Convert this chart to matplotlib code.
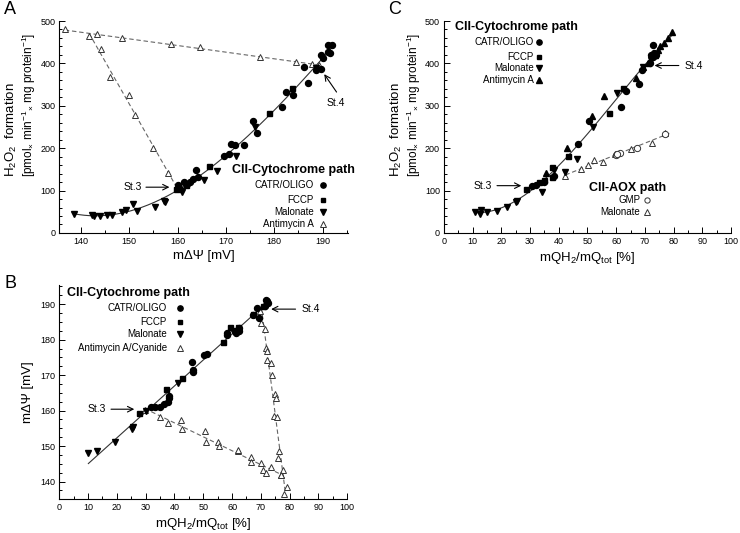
import numpy as np
import matplotlib
matplotlib.use("Agg")
import matplotlib.pyplot as plt
from matplotlib.ticker import MultipleLocator

plt.rcParams['font.family'] = ['Liberation Sans', 'DejaVu Sans']
plt.rcParams['mathtext.fontset'] = 'custom'
plt.rcParams['mathtext.rm'] = 'Liberation Sans'
plt.rcParams['mathtext.it'] = 'Liberation Sans:italic'
plt.rcParams['mathtext.bf'] = 'Liberation Sans:bold'

# ---- panel A: H2O2 vs membrane potential ----
a_catr_x = [160.2, 161.3, 161.9, 162.5, 163.2, 163.8, 164.2, 160.6, 169.6, 170.6, 171.0, 171.9,
            173.8, 175.6, 176.5, 181.5, 182.5, 183.9, 186.1, 186.9, 188.6, 189.6, 189.7, 190.1,
            191.1, 191.6, 191.2, 192.0]
a_catr_y = [113, 121, 115, 121, 127, 149, 131, 104, 182, 186, 209, 207,
            208, 265, 235, 298, 333, 325, 392, 353, 384, 387, 420, 413,
            428, 424, 443, 443]
a_fccp_x = [159.6, 161.8, 166.5, 179.0, 183.7]
a_fccp_y = [103, 113, 157, 282, 343]
a_malo_x = [138.6, 142.4, 142.7, 143.9, 145.4, 146.4, 148.6, 149.4, 150.7, 151.7, 155.3, 157.2,
            157.5, 161.0, 165.4, 168.2, 172.0, 176.1, 188.7]
a_malo_y = [44, 42, 39, 39, 42, 42, 49, 54, 68, 52, 61, 75,
            74, 96, 125, 147, 182, 249, 390]
a_anti_up_x = [136.7, 141.7, 143.3, 148.5, 158.6, 164.7, 177.0, 184.4, 187.7, 189.2]
a_anti_up_y = [480, 465, 470, 461, 446, 438, 414, 404, 398, 396]
a_anti_dn_x = [141.7, 144.1, 146.0, 150.0, 151.2, 155.0, 158.0]
a_anti_dn_y = [465, 435, 369, 325, 278, 201, 141]

# ---- panel B: membrane potential vs Q reduction ----
b_catr_x = [31.7, 33.2, 35.0, 36.3, 37.8, 38.0, 38.2, 46.2, 46.5, 46.5, 50.3, 51.4, 58.1, 58.4,
            61.2, 62.5, 62.5, 67.4, 68.8, 69.4, 71.4, 71.8, 72.4, 72.2]
b_catr_y = [161.1, 161.1, 160.9, 161.8, 162.5, 163.5, 164.0, 173.8, 171.5, 171.0, 175.6, 175.9,
            182.0, 181.3, 181.8, 183.2, 182.5, 187.0, 188.8, 186.0, 189.5, 191.2, 190.4, 190.8]
b_fccp_x = [27.8, 36.9, 42.7, 56.9, 59.3, 62.0, 67.4, 70.8]
b_fccp_y = [159.4, 166.2, 169.3, 179.2, 183.7, 183.5, 187.1, 189.5]
b_malo_x = [10.1, 13.0, 19.3, 25.1, 25.5, 30.0, 41.3, 60.4]
b_malo_y = [148.2, 148.7, 151.3, 154.9, 155.5, 160.0, 167.7, 182.5]
b_anti_lo_x = [29.7, 34.8, 37.8, 42.2, 42.5, 50.6, 50.9, 55.2, 55.6, 61.9, 62.2, 66.4, 66.4,
               69.9, 70.6, 71.8, 73.5, 77.0]
b_anti_lo_y = [160.2, 158.3, 156.4, 157.4, 154.7, 154.4, 151.1, 151.1, 149.9, 148.6, 148.9,
               147.0, 145.6, 145.2, 143.3, 142.5, 144.0, 141.9]
b_anti_st_x = [69.7, 70.0, 71.5, 71.8, 72.0, 72.2, 73.5, 73.7, 74.9, 75.2, 74.5, 75.7, 76.4,
               76.0, 77.8, 76.9, 79.2, 78.0]
b_anti_st_y = [188.2, 184.6, 182.9, 177.6, 176.8, 174.3, 173.5, 169.9, 164.7, 163.5, 158.5,
               158.3, 148.5, 146.6, 143.3, 141.8, 138.6, 136.4]

# ---- panel C: H2O2 vs Q reduction ----
c_catr_x = [30.7, 32.0, 34.9, 38.3, 46.8, 50.5, 61.6, 63.3, 68.1, 68.9, 71.8, 72.2, 73.3,
            72.7, 73.0, 74.0]
c_catr_y = [111, 112, 120, 134, 209, 264, 298, 335, 351, 384, 400, 420, 424, 443, 415, 420]
c_fccp_x = [28.6, 33.2, 34.9, 37.8, 37.5, 43.3, 57.6, 62.5]
c_fccp_y = [103, 121, 125, 133, 155, 182, 282, 343]
c_malo_x = [10.8, 12.4, 12.9, 15.1, 18.4, 22.1, 25.1, 25.5, 34.3, 38.5, 42.0, 46.3, 51.8,
            60.4, 69.4, 72.1]
c_malo_y = [50, 45, 54, 49, 53, 62, 74, 76, 97, 149, 144, 175, 251, 331, 392, 408]
c_anti_x = [35.4, 42.8, 51.7, 55.8, 66.8, 69.2, 71.2, 73.5, 75.2, 76.5, 78.2, 79.3, 74.4]
c_anti_y = [141, 200, 275, 324, 366, 392, 400, 420, 440, 447, 459, 475, 432]
c_gmp_x = [59.9, 61.4, 67.2, 77.0, 60.2]
c_gmp_y = [184, 189, 201, 233, 186]
c_aox_malo_x = [42.3, 47.6, 50.3, 52.3, 55.5, 59.5, 65.3, 72.4, 77.0]
c_aox_malo_y = [135, 150, 160, 172, 167, 186, 197, 213, 235]

LINE = '#333333'
DASH = '#666666'
fig = plt.figure(figsize=(7.4, 5.33), dpi=100)

axA = fig.add_axes([0.0804, 0.5629, 0.3896, 0.3977])
axB = fig.add_axes([0.0801, 0.0638, 0.3892, 0.4015])
axC = fig.add_axes([0.6000, 0.5629, 0.3878, 0.3977])


def style(ax, xmaj, xmin, ymaj, ymin):
    for s in ['top', 'right']:
        ax.spines[s].set_visible(False)
    for s in ['left', 'bottom']:
        ax.spines[s].set_linewidth(0.8)
    ax.xaxis.set_major_locator(MultipleLocator(xmaj))
    ax.xaxis.set_minor_locator(MultipleLocator(xmin))
    ax.yaxis.set_major_locator(MultipleLocator(ymaj))
    ax.yaxis.set_minor_locator(MultipleLocator(ymin))
    ax.tick_params(which='both', direction='in', width=0.7, labelsize=6.5, pad=3)
    ax.tick_params(which='major', length=4)
    ax.tick_params(which='minor', length=2)


def filled(ax, x, y, m, ms):
    ax.plot(x, y, m, color='black', ms=ms, ls='none', zorder=4, clip_on=False)


def hollow(ax, x, y, m, ms):
    ax.plot(x, y, m, mfc='white', mec='#333333', mew=0.7, ms=ms, ls='none', zorder=3,
            clip_on=False)


def legend(ax, title, tx, ty, rx, mx, rows, entries):
    ax.text(tx, ty, title, transform=ax.transAxes, fontsize=9, fontweight='bold',
            ha='left', va='center')
    for yy, (lab, m, fill, ms) in zip(rows, entries):
        ax.text(rx, yy, lab, transform=ax.transAxes, fontsize=7, ha='right', va='center')
        if fill:
            ax.plot([mx], [yy], m, color='black', ms=ms, transform=ax.transAxes, clip_on=False)
        else:
            ax.plot([mx], [yy], m, mfc='white', mec='#333333', mew=0.7, ms=ms,
                    transform=ax.transAxes, clip_on=False)


ylab1 = 'H$_2$O$_2$  formation'
ylab2 = '[pmol$_{\\times}$ min$^{-1}$$_{\\times}$ mg protein$^{-1}$]'
qlab = 'mQH$_2$/mQ$_{\\rm tot}$ [%]'

# ---------- A ----------
ax = axA
style(ax, 10, 5, 100, 20)
ax.set_xlim(135.6, 195.2)
ax.set_ylim(0, 500)
allx = np.array(a_catr_x + a_fccp_x + a_malo_x)
ally = np.array(a_catr_y + a_fccp_y + a_malo_y)
p = np.polyfit(allx, ally, 3)
xs = np.linspace(138.6, 192.0, 200)
ax.plot(xs, np.polyval(p, xs), color=LINE, lw=0.8, zorder=2)
p = np.polyfit(a_anti_up_x, a_anti_up_y, 1)
xs = np.array([a_anti_up_x[0], a_anti_up_x[-1]])
ax.plot(xs, np.polyval(p, xs), ls=(0, (4, 2.5)), color=DASH, lw=0.8, zorder=2)
p = np.polyfit(a_anti_dn_x, a_anti_dn_y, 1)
xs = np.array([a_anti_dn_x[0], 160.0])
ax.plot(xs, np.polyval(p, xs), ls=(0, (4, 2.5)), color=DASH, lw=0.8, zorder=2)
hollow(ax, a_anti_up_x, a_anti_up_y, '^', 5)
hollow(ax, a_anti_dn_x[1:], a_anti_dn_y[1:], '^', 5)
filled(ax, a_catr_x, a_catr_y, 'o', 4.3)
filled(ax, a_fccp_x, a_fccp_y, 's', 3.6)
filled(ax, a_malo_x, a_malo_y, 'v', 4.6)
ax.set_xlabel('m\u0394\u03a8 [mV]', fontsize=9.5, labelpad=3)
ax.annotate('', xy=(158.9, 108), xytext=(152.9, 108),
            arrowprops=dict(arrowstyle='->', lw=0.8, color='black'))
ax.text(152.6, 108, 'St.3', fontsize=7.5, ha='right', va='center')
ax.annotate('', xy=(190.0, 380), xytext=(193.2, 327),
            arrowprops=dict(arrowstyle='->', lw=0.8, color='black'))
ax.text(190.8, 306, 'St.4', fontsize=7.5, ha='left', va='center')
legend(ax, 'CII-Cytochrome path', 0.597, 0.297, 0.882, 0.913,
       [0.226, 0.156, 0.098, 0.042],
       [('CATR/OLIGO', 'o', True, 3.8), ('FCCP', 's', True, 3.2),
        ('Malonate', 'v', True, 4.0), ('Antimycin A', '^', False, 4.0)])

# ---------- B ----------
ax = axB
style(ax, 10, 5, 10, 2.5)
ax.set_xlim(0, 100)
ax.set_ylim(135.1, 195.4)
allx = np.array(b_catr_x + b_fccp_x + b_malo_x)
ally = np.array(b_catr_y + b_fccp_y + b_malo_y)
p = np.polyfit(allx, ally, 1)
xs = np.array([10.1, 72.4])
ax.plot(xs, np.polyval(p, xs), color=LINE, lw=0.8, zorder=2)
p = np.polyfit(b_anti_lo_x, b_anti_lo_y, 1)
xs = np.array([b_anti_lo_x[0], 78.0])
ax.plot(xs, np.polyval(p, xs), ls=(0, (4, 2.5)), color=DASH, lw=0.8, zorder=2)
p = np.polyfit(b_anti_st_y, b_anti_st_x, 1)
ys = np.array([189.0, 136.4])
ax.plot(np.polyval(p, ys), ys, ls=(0, (4, 2.5)), color=DASH, lw=0.8, zorder=2)
hollow(ax, b_anti_lo_x, b_anti_lo_y, '^', 5)
hollow(ax, b_anti_st_x, b_anti_st_y, '^', 5)
filled(ax, b_catr_x, b_catr_y, 'o', 4.3)
filled(ax, b_fccp_x, b_fccp_y, 's', 3.6)
filled(ax, b_malo_x, b_malo_y, 'v', 4.6)
ax.set_xlabel(qlab, fontsize=9.5, labelpad=3)
ax.set_ylabel('m\u0394\u03a8 [mV]', fontsize=9.5, labelpad=4)
ax.annotate('', xy=(27.0, 160.4), xytext=(17.0, 160.4),
            arrowprops=dict(arrowstyle='->', lw=0.8, color='black'))
ax.text(16.3, 160.4, 'St.3', fontsize=7.5, ha='right', va='center')
ax.annotate('', xy=(72.6, 188.6), xytext=(83.0, 188.6),
            arrowprops=dict(arrowstyle='->', lw=0.8, color='black'))
ax.text(84.2, 188.6, 'St.4', fontsize=7.5, ha='left', va='center')
legend(ax, 'CII-Cytochrome path', 0.026, 0.961, 0.373, 0.419,
       [0.894, 0.826, 0.770, 0.704],
       [('CATR/OLIGO', 'o', True, 3.8), ('FCCP', 's', True, 3.2),
        ('Malonate', 'v', True, 4.0), ('Antimycin A/Cyanide', '^', False, 4.0)])

# ---------- C ----------
ax = axC
style(ax, 10, 5, 100, 20)
ax.set_xlim(0, 100)
ax.set_ylim(0, 500)
allx = np.array(c_catr_x + c_fccp_x + c_malo_x + c_anti_x)
ally = np.array(c_catr_y + c_fccp_y + c_malo_y + c_anti_y)
p = np.polyfit(allx, ally, 3)
xs = np.linspace(10.8, 79.6, 200)
ax.plot(xs, np.polyval(p, xs), color=LINE, lw=0.8, zorder=2)
aoxx = np.array(c_gmp_x + c_aox_malo_x)
aoxy = np.array(c_gmp_y + c_aox_malo_y)
p = np.polyfit(aoxx, aoxy, 1)
xs = np.array([aoxx.min(), aoxx.max() + 1.5])
ax.plot(xs, np.polyval(p, xs), ls=(0, (4, 2.5)), color=DASH, lw=0.8, zorder=2)
hollow(ax, c_aox_malo_x, c_aox_malo_y, '^', 5)
hollow(ax, c_gmp_x, c_gmp_y, 'o', 4.5)
filled(ax, c_catr_x, c_catr_y, 'o', 4.3)
filled(ax, c_fccp_x, c_fccp_y, 's', 3.6)
filled(ax, c_malo_x, c_malo_y, 'v', 4.6)
filled(ax, c_anti_x, c_anti_y, '^', 4.6)
ax.set_xlabel(qlab, fontsize=9.5, labelpad=3)
ax.annotate('', xy=(27.9, 111.6), xytext=(17.5, 111.6),
            arrowprops=dict(arrowstyle='->', lw=0.8, color='black'))
ax.text(16.7, 111.6, 'St.3', fontsize=7.5, ha='right', va='center')
ax.annotate('', xy=(72.4, 395), xytext=(82.8, 395),
            arrowprops=dict(arrowstyle='->', lw=0.8, color='black'))
ax.text(84.0, 395, 'St.4', fontsize=7.5, ha='left', va='center')
legend(ax, 'CII-Cytochrome path', 0.0375, 0.973, 0.313, 0.331,
       [0.900, 0.832, 0.777, 0.722],
       [('CATR/OLIGO', 'o', True, 3.8), ('FCCP', 's', True, 3.2),
        ('Malonate', 'v', True, 4.0), ('Antimycin A', '^', True, 4.0)])
legend(ax, 'CII-AOX path', 0.507, 0.214, 0.683, 0.709,
       [0.156, 0.100],
       [('GMP', 'o', False, 3.8), ('Malonate', '^', False, 4.0)])

# y labels for A and C (two lines, different sizes)
for x1, x2 in [(11, 28.5), (396, 413.5)]:
    fig.text(x1 / 740, 1 - 177 / 533, ylab1, rotation=90, fontsize=9.5,
             ha='center', va='bottom')
    fig.text(x2 / 740, 1 - 177 / 533, ylab2, rotation=90, fontsize=8.5,
             ha='center', va='bottom')

# panel letters
fig.text(10 / 740, 1 - 10 / 533, 'A', fontsize=13, ha='center', va='center')
fig.text(10 / 740, 1 - 283 / 533, 'B', fontsize=13, ha='center', va='center')
fig.text(395 / 740, 1 - 10 / 533, 'C', fontsize=13, ha='center', va='center')

fig.savefig('out.png', dpi=100)
